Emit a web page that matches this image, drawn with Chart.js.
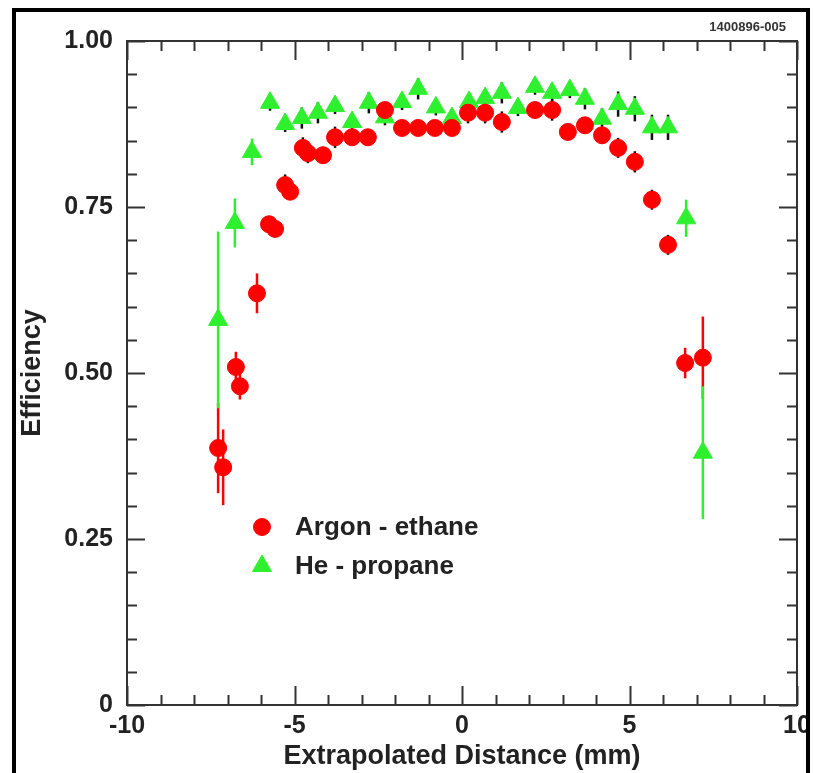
<!DOCTYPE html>
<html>
<head>
<meta charset="utf-8">
<title>Efficiency vs Extrapolated Distance</title>
<script src="https://cdn.jsdelivr.net/npm/chart.js@4.4.1/dist/chart.umd.min.js"></script>
<style>
  body { margin: 0; background: #fff; }
  canvas { display: block; }
</style>
</head>
<body>
<canvas id="efficiency" width="818" height="773"></canvas>
<script>
// Argon - ethane (red circles)
const argonX = [-7.28, -7.13, -6.75, -6.63, -6.12, -5.76, -5.58, -5.28, -5.13, -4.75, -4.60, -4.15,
  -3.79, -3.28, -2.81, -2.30, -1.79, -1.31, -0.81, -0.30, 0.18, 0.69, 1.19, 2.18, 2.69, 3.16,
  3.67, 4.18, 4.66, 5.16, 5.67, 6.15, 6.66, 7.19];
const argonY = [0.387, 0.358, 0.509, 0.480, 0.620, 0.724, 0.717, 0.783, 0.773, 0.839, 0.831, 0.828,
  0.855, 0.855, 0.855, 0.896, 0.869, 0.869, 0.869, 0.869, 0.892, 0.892, 0.878, 0.896, 0.896, 0.863,
  0.873, 0.858, 0.839, 0.818, 0.761, 0.693, 0.515, 0.523];
const argonErr = [0.068, 0.057, 0.023, 0.020, 0.030, 0.012, 0.012, 0.016, 0.012, 0.016, 0.015, 0.012,
  0.016, 0.012, 0.012, 0.012, 0.012, 0.012, 0.012, 0.012, 0.016, 0.016, 0.016, 0.012, 0.016, 0.012,
  0.012, 0.012, 0.015, 0.016, 0.015, 0.015, 0.023, 0.062];

// He - propane (green triangles)
const heliumX = [-7.28, -6.78, -6.27, -5.73, -5.28, -4.78, -4.30, -3.79, -3.28, -2.78, -2.30, -1.79,
  -1.31, -0.78, -0.30, 0.21, 0.69, 1.19, 1.67, 2.18, 2.69, 3.22, 3.67, 4.18, 4.66, 5.16, 5.67,
  6.15, 6.69, 7.19];
const heliumY = [0.580, 0.726, 0.833, 0.907, 0.875, 0.884, 0.892, 0.902, 0.878, 0.907, 0.885, 0.908,
  0.928, 0.900, 0.884, 0.908, 0.914, 0.922, 0.899, 0.931, 0.922, 0.926, 0.913, 0.883, 0.905, 0.898,
  0.870, 0.870, 0.733, 0.380];
const heliumErr = [0.133, 0.037, 0.020, 0.012, 0.012, 0.016, 0.016, 0.012, 0.012, 0.016, 0.012, 0.012,
  0.016, 0.012, 0.012, 0.012, 0.012, 0.016, 0.012, 0.012, 0.012, 0.012, 0.016, 0.016, 0.019, 0.019,
  0.019, 0.019, 0.028, 0.100];

// axis tick labels
const xTicks = [-10, -5, 0, 5, 10];
const yTicks = [0, 0.25, 0.5, 0.75, 1];

const RED = "#ff0000";
const GREEN = "#2ef02e";
const FONT = "'Liberation Sans', Arial, sans-serif";

function toPoints(xs, ys, errs) {
  return xs.map((x, i) => ({ x: x, y: ys[i], err: errs[i] }));
}

// error bars, axis box with inward ticks, legend and page border
const decorations = {
  id: "decorations",
  beforeDraw(chart) {
    const c = chart.ctx;
    c.save();
    c.fillStyle = "#fff";
    c.fillRect(0, 0, chart.width, chart.height);
    c.restore();
  },
  beforeDatasetsDraw(chart) {
    const c = chart.ctx;
    const xs = chart.scales.x, ys = chart.scales.y;
    c.save();
    c.lineWidth = 2.5;
    chart.data.datasets.forEach(ds => {
      ds.data.forEach(p => {
        const px = xs.getPixelForValue(p.x);
        c.strokeStyle = p.err >= 0.02 ? ds.backgroundColor : "#111";
        c.beginPath();
        c.moveTo(px, ys.getPixelForValue(p.y - p.err));
        c.lineTo(px, ys.getPixelForValue(p.y + p.err));
        c.stroke();
      });
    });
    c.restore();
  },
  afterDraw(chart) {
    const c = chart.ctx;
    const a = chart.chartArea;
    const xs = chart.scales.x, ys = chart.scales.y;
    c.save();

    // plot box
    c.strokeStyle = "#333";
    c.lineWidth = 2;
    c.strokeRect(a.left, a.top, a.right - a.left, a.bottom - a.top);

    // ticks on all four sides, pointing inward
    c.beginPath();
    for (let v = xs.min; v <= xs.max; v += 1) {
      const px = Math.round(xs.getPixelForValue(v)) + 0.5;
      const len = v % 5 === 0 ? 19 : 10;
      c.moveTo(px, a.bottom); c.lineTo(px, a.bottom - len);
      c.moveTo(px, a.top); c.lineTo(px, a.top + len);
    }
    for (let i = 0; i <= 20; i++) {
      const v = ys.min + i * 0.05;
      const py = Math.round(ys.getPixelForValue(v)) + 0.5;
      const len = i % 5 === 0 ? 18 : 10;
      c.moveTo(a.left, py); c.lineTo(a.left + len, py);
      c.moveTo(a.right, py); c.lineTo(a.right - len, py);
    }
    c.stroke();

    // legend inside the plot
    const items = [
      { text: "Argon - ethane", ds: chart.data.datasets[0], y: 527 },
      { text: "He - propane", ds: chart.data.datasets[1], y: 566 }
    ];
    items.forEach(it => {
      c.fillStyle = it.ds.backgroundColor;
      c.strokeStyle = it.ds.backgroundColor;
      c.lineWidth = 1;
      Chart.helpers.drawPoint(c, {
        pointStyle: it.ds.pointStyle,
        radius: it.ds.pointRadius,
        borderWidth: 1,
        rotation: 0
      }, 262, it.y);
      c.fillStyle = "#222";
      c.font = "bold 26px " + FONT;
      c.textAlign = "left";
      c.textBaseline = "middle";
      c.fillText(it.text, 295, it.y + 1);
    });

    // figure id
    c.font = "bold 13px " + FONT;
    c.textAlign = "right";
    c.textBaseline = "middle";
    c.fillStyle = "#333";
    c.fillText("1400896-005", 786, 27);

    // page border
    c.strokeStyle = "#000";
    c.lineWidth = 4;
    c.strokeRect(14, 10, 794, 800);
    c.restore();
  }
};

var ctx = document.getElementById("efficiency").getContext("2d");
var chart = new Chart(ctx, {
  type: "scatter",

  // The data for our dataset
  data: {
    datasets: [
      {
        label: "Argon - ethane",
        data: toPoints(argonX, argonY, argonErr),
        backgroundColor: RED,
        borderColor: RED,
        pointStyle: "circle",
        pointRadius: 8.5,
        pointBorderWidth: 1
      },
      {
        label: "He - propane",
        data: toPoints(heliumX, heliumY, heliumErr),
        backgroundColor: GREEN,
        borderColor: GREEN,
        pointStyle: "triangle",
        pointRadius: 11,
        pointBorderWidth: 1
      }
    ]
  },

  // Configuration options go here
  options: {
    responsive: false,
    animation: false,
    events: [],
    layout: { padding: { top: 41, right: 21, left: 0, bottom: 0 } },
    plugins: {
      legend: { display: false },
      tooltip: { enabled: false }
    },
    scales: {
      x: {
        type: "linear",
        min: -10,
        max: 10,
        afterFit: scale => { scale.height = 68; },
        afterBuildTicks: scale => { scale.ticks = xTicks.map(v => ({ value: v })); },
        grid: { display: false, drawTicks: false },
        border: { display: false },
        ticks: {
          padding: 6,
          color: "#222",
          font: { family: FONT, size: 25, weight: "bold" },
          callback: v => String(v)
        },
        title: {
          display: true,
          text: "Extrapolated Distance (mm)",
          color: "#222",
          padding: { top: 0, bottom: 0 },
          font: { family: FONT, size: 27, weight: "bold" }
        }
      },
      y: {
        type: "linear",
        min: 0,
        max: 1,
        afterFit: scale => { scale.width = 127; },
        afterBuildTicks: scale => { scale.ticks = yTicks.map(v => ({ value: v })); },
        grid: { display: false, drawTicks: false },
        border: { display: false },
        ticks: {
          padding: 14,
          color: "#222",
          font: { family: FONT, size: 25, weight: "bold" },
          callback: v => (v === 0 ? "0" : v.toFixed(2))
        },
        title: {
          display: true,
          text: "Efficiency",
          color: "#222",
          padding: { top: 16, bottom: 0 },
          font: { family: FONT, size: 27, weight: "bold" }
        }
      }
    }
  },
  plugins: [decorations]
});
</script>
</body>
</html>
